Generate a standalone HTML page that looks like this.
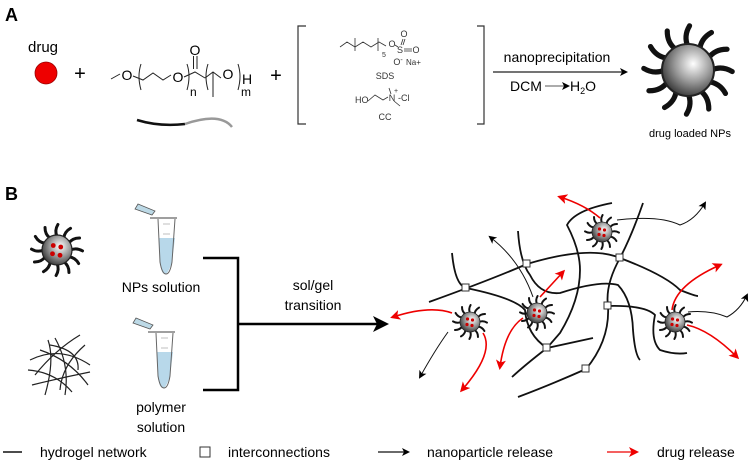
<!DOCTYPE html>
<html><head><meta charset="utf-8"><style>
html,body{margin:0;padding:0;background:#fff}
svg{display:block}
text{font-family:"Liberation Sans",sans-serif}
</style></head><body>
<svg width="753" height="471" viewBox="0 0 753 471" xmlns="http://www.w3.org/2000/svg">
<defs>
<radialGradient id="g" cx="0.6" cy="0.38" r="0.7">
<stop offset="0" stop-color="#fff"/><stop offset="0.5" stop-color="#999"/><stop offset="1" stop-color="#2a2a2a"/>
</radialGradient>
<path id="sp" d="M9,0 Q13,-1.8 17,0.6" fill="none" stroke="#111" stroke-width="2" stroke-linecap="round"/>
<g id="np">
<use href="#sp"/><use href="#sp" transform="rotate(30)"/><use href="#sp" transform="rotate(60)"/><use href="#sp" transform="rotate(90)"/>
<use href="#sp" transform="rotate(120)"/><use href="#sp" transform="rotate(150)"/><use href="#sp" transform="rotate(180)"/><use href="#sp" transform="rotate(210)"/>
<use href="#sp" transform="rotate(240)"/><use href="#sp" transform="rotate(270)"/><use href="#sp" transform="rotate(300)"/><use href="#sp" transform="rotate(330)"/>
<circle r="10" fill="url(#g)" stroke="#222" stroke-width="0.8"/>
</g>
<g id="npd">
<use href="#np"/>
<circle cx="-2.5" cy="-3" r="1.6" fill="#c00"/><circle cx="2.5" cy="-2" r="1.6" fill="#c00"/><circle cx="-3" cy="2.5" r="1.6" fill="#c00"/><circle cx="2" cy="3.5" r="1.6" fill="#c00"/>
</g>
<marker id="ab" markerWidth="8" markerHeight="8" refX="6" refY="4" orient="auto" markerUnits="userSpaceOnUse"><path d="M0,0 L8,4 L0,8 L2,4z" fill="#000"/></marker>
<marker id="ar" markerWidth="10" markerHeight="10" refX="7" refY="5" orient="auto" markerUnits="userSpaceOnUse"><path d="M0,0 L10,5 L0,10 L2.5,5z" fill="#e00"/></marker>
<marker id="abig" markerWidth="16" markerHeight="16" refX="12" refY="8" orient="auto" markerUnits="userSpaceOnUse"><path d="M0,0 L16,8 L0,16 L4,8z" fill="#000"/></marker>
</defs>

<!-- Panel A -->
<text x="5" y="21" font-size="18" font-weight="bold">A</text>
<text x="28" y="52" font-size="15">drug</text>
<circle cx="46" cy="73" r="11" fill="#e00" stroke="#900" stroke-width="0.8"/>
<text x="80" y="80" font-size="20" text-anchor="middle">+</text>

<g stroke="#222" stroke-width="1" fill="none">
<path d="M111,79 L120,74"/>
<path d="M141,64 Q137,76 141,90"/>
<path d="M133,76 L143,80 L153,73 L163,80 L171,75"/>
<path d="M187,64 Q191,76 187,90"/>
<path d="M184,77 L195,72 L205,78"/>
<path d="M193.5,56 L193.5,69 M197,56 L197,69"/>
<path d="M208,64 Q204,76 208,90"/>
<path d="M205,78 L213,72 L221,78"/>
<path d="M213,72 L213,97"/>
<path d="M238,64 Q242,76 238,90"/>
</g>
<text x="127" y="80" font-size="14" text-anchor="middle">O</text>
<text x="178" y="82" font-size="14" text-anchor="middle">O</text>
<text x="195" y="55" font-size="14" text-anchor="middle">O</text>
<text x="228" y="79" font-size="14" text-anchor="middle">O</text>
<text x="190" y="96" font-size="12">n</text>
<text x="241" y="96" font-size="12">m</text>
<text x="242" y="84" font-size="14">H</text>
<path d="M137,120 Q160,127 185,124" stroke="#111" stroke-width="2.5" fill="none"/>
<path d="M185,124 Q220,112 232,127" stroke="#999" stroke-width="2.5" fill="none"/>

<text x="276" y="82" font-size="20" text-anchor="middle">+</text>
<path d="M306,26 L298,26 L298,124 L306,124" stroke="#333" stroke-width="1.2" fill="none"/>
<path d="M477,26 L484,26 L484,124 L477,124" stroke="#333" stroke-width="1.2" fill="none"/>

<g stroke="#333" stroke-width="0.8" fill="none">
<path d="M340,47 L347,42 L355,47 L363,42 L371,47 L379,42 L386,46"/>
<path d="M355,38 L355,51 M378,38 L378,51"/>
<path d="M395,45 L398,47"/>
<path d="M403,39 L401,45 M405,39 L403,45"/>
<path d="M404,49 L412,49 M404,51 L412,51"/>
<path d="M368,101 L375,95 L383,100 L388,97"/>
<path d="M391,94 L389,88 M394,101 L400,106"/>
</g>
<text x="392" y="47" font-size="9" text-anchor="middle" fill="#333">O</text>
<text x="400" y="53" font-size="9" text-anchor="middle" fill="#333">S</text>
<text x="404" y="37" font-size="9" text-anchor="middle" fill="#333">O</text>
<text x="416" y="53" font-size="9" text-anchor="middle" fill="#333">O</text>
<text x="398" y="65" font-size="9" text-anchor="middle" fill="#333">O<tspan font-size="7" dy="-3">-</tspan></text>
<text x="406" y="65" font-size="8" fill="#333">Na+</text>
<text x="382" y="57" font-size="7" fill="#333">5</text>
<text x="385" y="79" font-size="9" text-anchor="middle" fill="#333">SDS</text>
<text x="355" y="103" font-size="9" fill="#333">HO</text>
<text x="392" y="101" font-size="9" text-anchor="middle" fill="#333">N</text>
<text x="394" y="93" font-size="7" fill="#333">+</text>
<text x="398" y="101" font-size="9" fill="#333">-Cl</text>
<text x="385" y="120" font-size="9" text-anchor="middle" fill="#333">CC</text>

<text x="557" y="62" font-size="14" text-anchor="middle">nanoprecipitation</text>
<line x1="493" y1="72" x2="626" y2="72" stroke="#222" stroke-width="1.3" marker-end="url(#ab)"/>
<text x="510" y="91" font-size="14">DCM</text>
<line x1="545" y1="86" x2="568" y2="86" stroke="#222" stroke-width="0.8" marker-end="url(#ab)"/>
<text x="570" y="91" font-size="14">H<tspan font-size="9" dy="3">2</tspan><tspan dy="-3">O</tspan></text>
<use href="#np" transform="translate(688,70) scale(2.6)"/>
<text x="690" y="137" font-size="11" text-anchor="middle">drug loaded NPs</text>

<!-- Panel B -->
<text x="5" y="200" font-size="18" font-weight="bold">B</text>
<use href="#npd" transform="translate(57,250) scale(1.5)"/>
<g stroke="#222" stroke-width="1.2" fill="none">
<path d="M30,360 Q60,345 90,365"/><path d="M35,375 Q55,350 80,335"/><path d="M45,395 Q55,360 48,340"/>
<path d="M60,390 Q62,365 85,345"/><path d="M28,370 Q55,372 72,392"/><path d="M40,350 Q70,360 88,385"/>
<path d="M55,338 Q70,365 65,395"/><path d="M32,385 Q60,378 90,372"/><path d="M50,345 Q80,350 78,370"/>
</g>
<g id="tube">
<path d="M135,209 L152,215 L155,211 L138,204z" fill="#bcd9e6" stroke="#555" stroke-width="0.8"/>
<path d="M150,218 L177,218" stroke="#666" stroke-width="1.2"/>
<path d="M159,238 L175,238 L172,262 Q168,274 165,274 Q161,274 160,262z" fill="#b8d8ea"/>
<path d="M158,219 L160,262 Q162,274 166,274 Q170,274 172,262 L175,219" fill="none" stroke="#666" stroke-width="1"/>
<path d="M163,224 L170,224 M163,234 L170,234" stroke="#aaa" stroke-width="0.8"/>
</g>
<use href="#tube" transform="translate(-2,114)"/>
<text x="161" y="292" font-size="14" text-anchor="middle">NPs solution</text>
<text x="161" y="412" font-size="14" text-anchor="middle">polymer</text>
<text x="161" y="432" font-size="14" text-anchor="middle">solution</text>
<path d="M203,258 L238,258 L238,390 L203,390" stroke="#000" stroke-width="2.5" fill="none"/>
<line x1="238" y1="324" x2="385" y2="324" stroke="#000" stroke-width="2.5" marker-end="url(#abig)"/>
<text x="313" y="290" font-size="14" text-anchor="middle">sol/gel</text>
<text x="313" y="310" font-size="14" text-anchor="middle">transition</text>

<!-- network -->
<g stroke="#111" stroke-width="1.8" fill="none">
<path d="M429,302 Q490,280 527,264 Q590,245 620,258 Q665,275 680,290 Q695,296 698,296"/>
<path d="M452,253 Q455,285 466,288 Q515,298 525,310 Q527,335 547,348 L593,338"/>
<path d="M518,231 Q520,262 530,275 Q540,295 560,293 Q600,280 618,285 Q632,300 633,330 Q635,355 640,360"/>
<path d="M612,203 Q575,210 567,225 Q580,250 580,270 Q580,300 560,333 L547,348 Q525,365 512,377"/>
<path d="M643,203 Q632,235 620,258 Q605,285 608,306 Q610,340 586,369 Q550,385 518,397"/>
<path d="M608,306 Q645,305 655,315 Q650,340 660,350 Q675,355 687,353"/>
</g>
<g fill="#fff" stroke="#333" stroke-width="1">
<rect x="462" y="284" width="7" height="7"/><rect x="523" y="260" width="7" height="7"/><rect x="616" y="254" width="7" height="7"/>
<rect x="604" y="302" width="7" height="7"/><rect x="543" y="344" width="7" height="7"/><rect x="582" y="365" width="7" height="7"/>
</g>
<g stroke="#111" stroke-width="1" fill="none" marker-end="url(#ab)">
<path d="M448,332 Q435,350 420,377"/>
<path d="M533,297 Q520,260 490,237"/>
<path d="M617,220 Q660,215 680,225 Q695,220 705,203"/>
<path d="M688,312 Q710,310 727,317 Q740,310 747,295"/>
</g>
<g stroke="#e00" stroke-width="1.6" fill="none" marker-end="url(#ar)">
<path d="M452,313 Q430,305 393,317"/>
<path d="M483,333 Q495,352 462,390"/>
<path d="M540,297 L563,272"/>
<path d="M523,318 Q505,330 500,367"/>
<path d="M600,218 Q585,205 560,197"/>
<path d="M672,310 Q675,285 720,265"/>
<path d="M687,325 Q710,330 737,357"/>
</g>
<use href="#npd" transform="translate(470,322)"/>
<use href="#npd" transform="translate(537,313)"/>
<use href="#npd" transform="translate(602,232)"/>
<use href="#npd" transform="translate(675,322)"/>

<!-- legend -->
<line x1="3" y1="452" x2="22" y2="452" stroke="#111" stroke-width="1.5"/>
<text x="40" y="457" font-size="14">hydrogel network</text>
<rect x="200" y="447" width="10" height="10" fill="#fff" stroke="#333" stroke-width="1"/>
<text x="228" y="457" font-size="14">interconnections</text>
<line x1="378" y1="452" x2="408" y2="452" stroke="#111" stroke-width="1.3" marker-end="url(#ab)"/>
<text x="427" y="457" font-size="14">nanoparticle release</text>
<line x1="607" y1="452" x2="636" y2="452" stroke="#e00" stroke-width="1.3" marker-end="url(#ar)"/>
<text x="657" y="457" font-size="14">drug release</text>
</svg>
</body></html>
